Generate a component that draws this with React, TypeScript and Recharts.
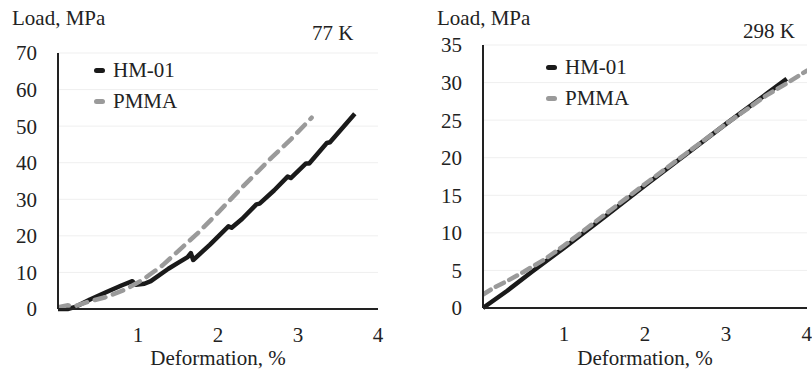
import React from "react";
import { LineChart, Line, XAxis, YAxis, CartesianGrid } from "recharts";

// ---- data ----
const xTicks = [1, 2, 3, 4];
const yTicks77 = [0, 10, 20, 30, 40, 50, 60, 70];
const yTicks298 = [0, 5, 10, 15, 20, 25, 30, 35];
const seriesNames = ["HM-01", "PMMA"];
const panelTitles = ["77 K", "298 K"];

const hm01At77K: [number, number][] = [
  [0, 0], [0.12, 0], [0.22, 0.6], [0.4, 2.6], [0.6, 4.6], [0.8, 6.5], [0.93, 7.6],
  [0.97, 6.6], [1.08, 6.9], [1.16, 7.6], [1.38, 11.0], [1.5, 12.6], [1.62, 14.2],
  [1.66, 15.3], [1.69, 13.4], [1.9, 17.6], [2.13, 22.6], [2.17, 22.2], [2.3, 24.6],
  [2.48, 28.6], [2.52, 28.8], [2.7, 32.4], [2.87, 36.2], [2.91, 35.8], [3.1, 39.8],
  [3.14, 39.8], [3.36, 45.4], [3.4, 45.6], [3.71, 53.4],
];
const pmmaAt77K: [number, number][] = [
  [0, 0.5], [0.12, 1], [0.2, 0.7], [0.38, 2], [0.59, 3.2], [0.84, 5.3], [1.06, 8],
  [1.31, 12], [1.56, 17], [1.76, 21], [1.94, 25], [2.29, 33], [2.67, 41.4],
  [2.92, 46.6], [3.17, 52.3],
];
const hm01At298K: [number, number][] = [
  [0, 0], [0.3, 2.3], [0.6, 4.8], [1, 8.0], [1.5, 12.1], [2, 16.3], [2.5, 20.4],
  [3, 24.5], [3.5, 28.5], [3.75, 30.5],
];
const pmmaAt298K: [number, number][] = [
  [0, 1.8], [0.15, 2.8], [0.3, 3.6], [0.5, 4.8], [0.75, 6.4], [1, 8.3], [1.5, 12.4],
  [2, 16.5], [2.5, 20.5], [3, 24.5], [3.5, 28.3], [3.75, 29.9], [4, 31.6],
];

const toPts = (arr: [number, number][]) => arr.map(([x, y]) => ({ x, y }));

const FONT = "Liberation Serif, DejaVu Serif, serif";
const TEXT = "#222";
const HM_COLOR = "#1a1a1a";
const PMMA_COLOR = "#9a9a9a";

const LegendBox = ({ left, top }: { left: number; top: number }) => (
  <div style={{ position: "absolute", left, top, fontFamily: FONT, fontSize: 21, color: TEXT }}>
    {seriesNames.map((n, i) => (
      <div key={n} style={{ display: "flex", alignItems: "center", height: 31 }}>
        <span
          style={{
            display: "inline-block",
            width: 11,
            height: 5,
            borderRadius: 3,
            background: i === 0 ? HM_COLOR : PMMA_COLOR,
            marginRight: 8,
          }}
        />
        <span>{n}</span>
      </div>
    ))}
  </div>
);

type PanelProps = {
  left: number;
  width: number;
  yAxisWidth: number;
  top: number;
  bottom: number;
  right: number;
  yMax: number;
  yTicks: number[];
  hm: [number, number][];
  pmma: [number, number][];
  legendLeft: number;
  legendTop: number;
  title: string;
  titleLeft: number;
  titleTop: number;
  loadLeft: number;
  dash: string;
};

const Panel = (p: PanelProps) => {
  const plotLeft = p.yAxisWidth;
  const plotRight = p.width - p.right;
  return (
    <div style={{ position: "absolute", left: p.left, top: 0, width: p.width, height: 373 }}>
      <LineChart
        width={p.width}
        height={373}
        margin={{ top: p.top, right: p.right, left: 0, bottom: 0 }}
        style={{ fontFamily: FONT }}
      >
        <CartesianGrid horizontal vertical={false} stroke="#efefef" strokeWidth={1} />
        <XAxis
          type="number"
          dataKey="x"
          domain={[0, 4]}
          ticks={xTicks}
          allowDataOverflow
          axisLine={{ stroke: "#222", strokeWidth: 2 }}
          tickLine={false}
          tickSize={0}
          tickMargin={18}
          tick={{ fontSize: 21, fill: TEXT, fontFamily: FONT }}
          height={p.bottom}
        />
        <YAxis
          type="number"
          dataKey="y"
          domain={[0, p.yMax]}
          ticks={p.yTicks}
          interval={0}
          width={p.yAxisWidth}
          axisLine={{ stroke: "#222", strokeWidth: 2 }}
          tickLine={false}
          tickSize={0}
          tickMargin={21}
          tick={{ fontSize: 21, fill: TEXT, fontFamily: FONT }}
        />
        <Line
          data={toPts(p.hm)}
          dataKey="y"
          name={seriesNames[0]}
          type="linear"
          stroke={HM_COLOR}
          strokeWidth={4.5}
          dot={false}
          activeDot={false}
          isAnimationActive={false}
          strokeLinejoin="round"
        />
        <Line
          data={toPts(p.pmma)}
          dataKey="y"
          name={seriesNames[1]}
          type="linear"
          stroke={PMMA_COLOR}
          strokeWidth={4.5}
          strokeDasharray={p.dash}
          strokeLinecap="round"
          dot={false}
          activeDot={false}
          isAnimationActive={false}
        />
      </LineChart>
      <LegendBox left={p.legendLeft} top={p.legendTop} />
      <div
        style={{
          position: "absolute",
          left: p.loadLeft,
          top: 6,
          fontFamily: FONT,
          fontSize: 21,
          color: TEXT,
          whiteSpace: "nowrap",
        }}
      >
        Load, MPa
      </div>
      <div
        style={{
          position: "absolute",
          left: p.titleLeft,
          top: p.titleTop,
          fontFamily: FONT,
          fontSize: 21,
          color: TEXT,
          whiteSpace: "nowrap",
        }}
      >
        {p.title}
      </div>
      <div
        style={{
          position: "absolute",
          left: plotLeft,
          width: plotRight - plotLeft,
          top: 346,
          textAlign: "center",
          fontFamily: FONT,
          fontSize: 21,
          color: TEXT,
          whiteSpace: "nowrap",
        }}
      >
        Deformation, %
      </div>
    </div>
  );
};

export default function App() {
  return (
    <div
      style={{
        position: "absolute",
        left: 0,
        top: 0,
        width: 812,
        height: 373,
        background: "#fff",
        overflow: "hidden",
        fontFamily: FONT,
      }}
    >
      <Panel
        left={0}
        width={400}
        yAxisWidth={58}
        top={53}
        bottom={64}
        right={22}
        yMax={70}
        yTicks={yTicks77}
        hm={hm01At77K}
        pmma={pmmaAt77K}
        legendLeft={94}
        legendTop={55}
        title={panelTitles[0]}
        titleLeft={312}
        titleTop={21}
        loadLeft={12}
        dash="11 8"
      />
      <Panel
        left={412}
        width={400}
        yAxisWidth={71}
        top={45}
        bottom={65}
        right={5}
        yMax={35}
        yTicks={yTicks298}
        hm={hm01At298K}
        pmma={pmmaAt298K}
        legendLeft={134}
        legendTop={52}
        title={panelTitles[1]}
        titleLeft={331}
        titleTop={19}
        loadLeft={25}
        dash="9 6"
      />
    </div>
  );
}
